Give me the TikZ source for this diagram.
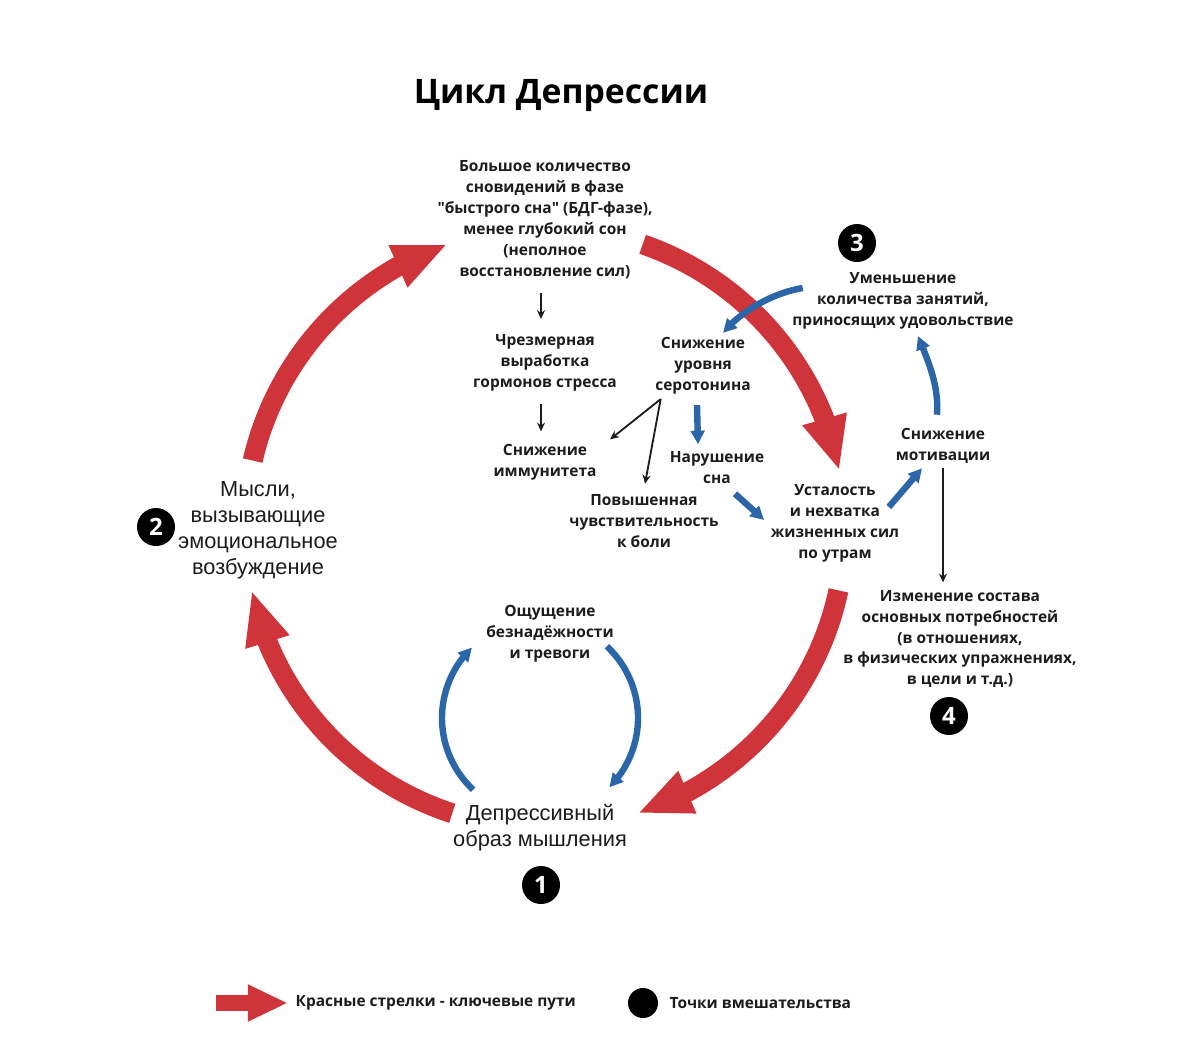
\documentclass[tikz,border=0pt]{standalone}
\usepackage{fontspec}
\setmainfont{Open Sans}
\newfontfamily\krupnyfont{Liberation Sans}
\usetikzlibrary{positioning,arrows.meta,bending,calc}
\definecolor{krasny}{HTML}{D0343B}
\definecolor{siniy}{HTML}{2A66A8}
\definecolor{tinta}{HTML}{1C1C1C}

\begin{document}
\begin{tikzpicture}[x=0.025cm, y=-0.025cm,
  tekst/.style={align=center, inner sep=1pt, text=tinta, font=\fontsize{11}{14.9}\selectfont\bfseries},
  krupny/.style={align=center, inner sep=1pt, text=tinta, font=\krupnyfont\fontsize{15.5}{18.4}\selectfont},
  nomer/.style={circle, fill=black, text=white, minimum size=0.95cm, inner sep=0pt, font=\fontsize{17}{17}\selectfont\bfseries},
  krasnaya/.style={draw=krasny, line width=0.5cm, -{Triangle[length=1.35cm, width=1.05cm]}},
  sinyaya/.style={draw=siniy, line width=0.16cm, -{Triangle[length=0.34cm, width=0.34cm]}},
  chernaya/.style={draw=tinta, line width=1.3pt, -{Stealth[length=2.2mm, width=2mm]}}]
\useasboundingbox (0,0) rectangle (1200,1057);

\node[font=\fontsize{24}{28}\selectfont\bfseries] (titul) at (561,96) {Цикл Депрессии};

% main texts
\node[tekst] (son) at (545,220) {Большое количество\\сновидений в фазе\\\textquotedbl быстрого сна\textquotedbl{} (БДГ-фазе),\\менее глубокий сон\\(неполное\\восстановление сил)};
\node[tekst] (gormony) at (545,363) {Чрезмерная\\выработка\\гормонов стресса};
\node[tekst] (immun) at (545,462) {Снижение\\иммунитета};
\node[tekst] (serot) at (703,366) {Снижение\\уровня\\серотонина};
\node[tekst] (narush) at (717,468) {Нарушение\\сна};
\node[tekst] (bol) at (644,521) {Повышенная\\чувствительность\\к боли};
\node[tekst] (ustal) at (835,523) {Усталость\\и нехватка\\жизненных сил\\по утрам};
\node[tekst] (motiv) at (943,446) {Снижение\\мотивации};
\node[tekst] (zanyat) at (903,301) {Уменьшение\\количества занятий,\\приносящих удовольствие};
\node[tekst] (potreb) at (960,639) {Изменение состава\\основных потребностей\\(в отношениях,\\в физических упражнениях,\\в цели и т.д.)};
\node[tekst] (beznad) at (550,634) {Ощущение\\безнадёжности\\и тревоги};
\node[krupny] (mysli) at (258,530) {Мысли,\\вызывающие\\эмоциональное\\возбуждение};
\node[krupny] (depr) at (540,828) {Депрессивный\\образ мышления};

% numbers
\node[nomer] (n1) at (541,885) {1};
\node[nomer] (n2) at (156,527) {2};
\node[nomer] (n3) at (857,243) {3};
\node[nomer] (n4) at (949,716) {4};

% red cycle
\coordinate (centr) at (545,528);
\draw[krasnaya] ($(centr)+(193:300)$) arc[start angle=193, end angle=251, radius=300];
\draw[krasnaya] ($(centr)+(289:300)$) arc[start angle=289, end angle=349, radius=300];
\draw[krasnaya] ($(centr)+(12:300)$) arc[start angle=12, end angle=72, radius=300];
\draw[krasnaya] ($(centr)+(108:300)$) arc[start angle=108, end angle=168, radius=300];

% small blue cycle
\coordinate (malyi) at (540,718);
\draw[sinyaya] ($(malyi)+(133:98)$) arc[start angle=133, end angle=226, radius=98];
\draw[sinyaya] ($(malyi)+(-47:98)$) arc[start angle=-47, end angle=45, radius=98];

% blue links
\draw[sinyaya] ($(zanyat.west)+(12,-13)$) .. controls +(-30,5) and +(18,-22) .. ($(serot.north)+(20,-3)$);
\draw[sinyaya] ($(serot.south)+(-6,9)$) -- ($(narush.north)+(-19,-6)$);
\draw[sinyaya] ($(narush.south)+(18,8)$) -- ($(ustal.west)+(-5,-3)$);
\draw[sinyaya] ($(ustal.east)+(-12,-16)$) -- ($(motiv.south)+(-21,3)$);
\draw[sinyaya] ($(motiv.north)+(-6,-12)$) .. controls +(2,-30) and +(10,25) .. ($(zanyat.south)+(15,5)$);

% black links
\draw[chernaya] ($(son.south)+(-4,12)$) -- ($(gormony.north)+(-4,-14)$);
\draw[chernaya] ($(gormony.south)+(-4,11)$) -- ($(immun.north)+(-4,-11)$);
\coordinate (razv) at ($(serot.south west)+(7,3)$);
\draw[chernaya] (razv) -- ($(immun.north east)+(12,-3)$);
\draw[chernaya] (razv) -- ($(bol.north)+(1,-9)$);
\draw[chernaya] ($(motiv.south)+(0,3)$) -- ($(motiv.south |- potreb.north)+(0,-6)$);

% legend
\node[tekst, anchor=west] (leg1) at (294,1003) {Красные стрелки - ключевые пути};
\draw[draw=krasny, line width=0.42cm, -{Triangle[length=1cm, width=0.85cm]}] ($(leg1.west)+(-78,0)$) -- ($(leg1.west)+(-6,0)$);
\node[circle, fill=black, minimum size=0.75cm, inner sep=0pt] (tochka) at (643,1003) {};
\node[tekst, anchor=west] (leg2) at (668,1003) {Точки вмешательства};
\end{tikzpicture}
\end{document}
